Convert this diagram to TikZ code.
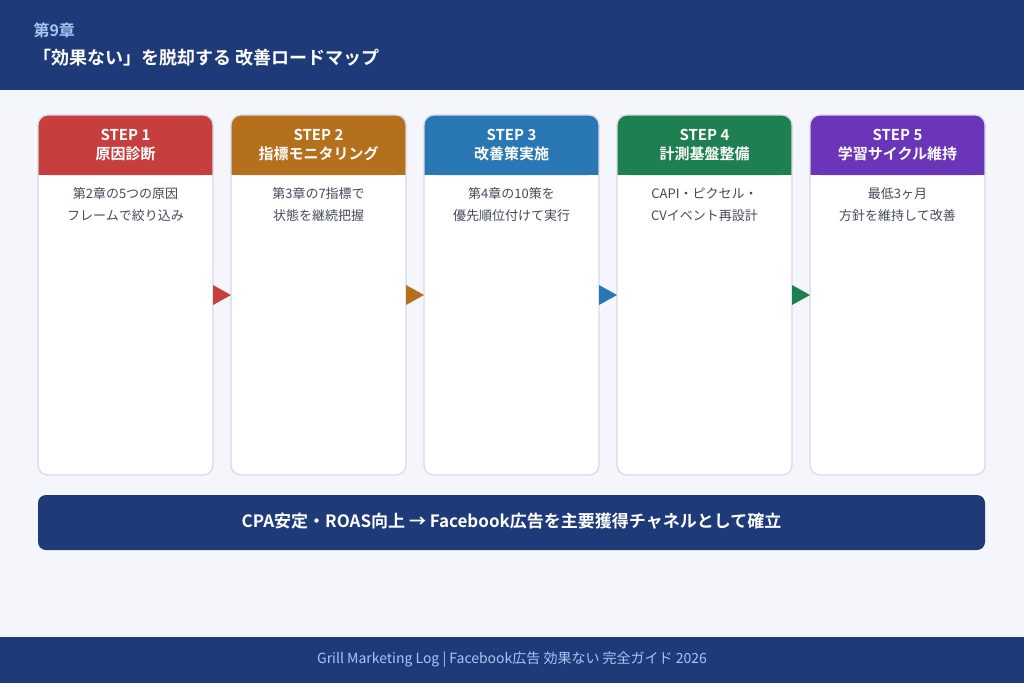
\documentclass[tikz,border=0pt]{standalone}
\usepackage{fontspec}
\setmainfont{Noto Sans CJK JP}
\newfontfamily\jpb{Noto Sans CJK JP Bold}
\definecolor{navy}{HTML}{1E3A78}
\definecolor{bg}{HTML}{F4F6FB}
\definecolor{lb}{HTML}{A9C4F5}
\definecolor{cA}{HTML}{C73E3E}
\definecolor{cB}{HTML}{B5701E}
\definecolor{cC}{HTML}{2A78B3}
\definecolor{cD}{HTML}{1E8050}
\definecolor{cE}{HTML}{6A35B8}
\definecolor{bd}{HTML}{D5DAE5}
\definecolor{tx}{HTML}{444A58}
\tikzset{x=1pt,y=-1pt,
 head/.style={text=white,font=\jpb\fontsize{15}{19}\selectfont,align=center},
 body/.style={text=tx,font=\fontsize{13}{22}\selectfont,align=center,anchor=north}}
\begin{document}
\begin{tikzpicture}
\fill[bg] (0,0) rectangle (1024,683);
\useasboundingbox (0,0) rectangle (1024,683);
\fill[navy] (0,0) rectangle (1024,90);
\node[anchor=west,text=lb,font=\jpb\fontsize{16}{18}\selectfont] (ch) at (30,30) {第9章};
\node[anchor=west,text=white,font=\jpb\fontsize{18}{20}\selectfont] (tt) at (30,58) {「効果ない」を脱却する 改善ロードマップ};
\foreach \i/\x/\c/\s/\t/\b in {1/38/cA/STEP 1/原因診断/{第2章の5つの原因\\フレームで絞り込み},
 2/231/cB/STEP 2/指標モニタリング/{第3章の7指標で\\状態を継続把握},
 3/424/cC/STEP 3/改善策実施/{第4章の10策を\\優先順位付けて実行},
 4/617/cD/STEP 4/計測基盤整備/{CAPI・ピクセル・\\CVイベント再設計},
 5/810/cE/STEP 5/学習サイクル維持/{最低3ヶ月\\方針を維持して改善}}{
 \fill[white,rounded corners=10] (\x,115) rectangle ++(175,360);
 \fill[\c,rounded corners=10] (\x,115) rectangle ++(175,60);
 \fill[\c] (\x,150) rectangle ++(175,25);
 \draw[bd,rounded corners=10,line width=1.2] (\x,115) rectangle ++(175,360);
 \node[head] (h\i) at (\x+87.5,145) {\s\\\t};
 \node[body] (b\i) at (\x+87.5,184) {\b};
}
\foreach \x/\c in {213/cA,406/cB,599/cC,792/cD}{
 \fill[\c] (\x,285) -- (\x+18,295) -- (\x,305) -- cycle;
}
\fill[navy,rounded corners=8] (38,495) rectangle (985,550);
\node[text=white,font=\jpb\fontsize{17}{20}\selectfont] (goal) at (511.5,521) {CPA安定・ROAS向上 → Facebook広告を主要獲得チャネルとして確立};
\fill[navy] (0,637) rectangle (1024,683);
\node[text=lb,font=\fontsize{14}{16}\selectfont] (ft) at (512,660) {Grill Marketing Log | Facebook広告 効果ない 完全ガイド 2026};
\end{tikzpicture}
\end{document}
